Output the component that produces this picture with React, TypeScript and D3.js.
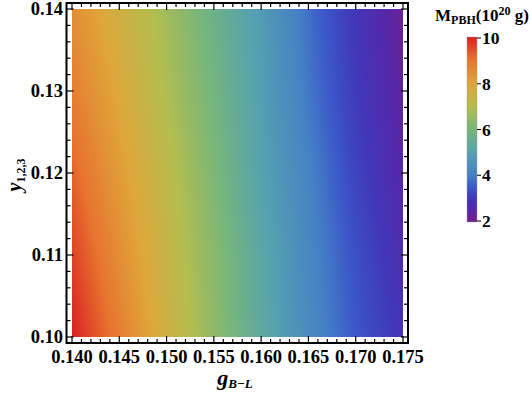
import React, { useEffect, useState } from "react";
import * as d3 from "d3";

const gValues = [0.14, 0.145, 0.15, 0.155, 0.16, 0.165, 0.17, 0.175];
const yValues = [0.1, 0.11, 0.12, 0.13, 0.14];
const massRow010 = [10.0, 8.8, 7.6, 6.4, 5.3, 4.3, 3.5, 2.9];
const massRow011 = [9.6, 8.5, 7.4, 6.3, 5.2, 4.2, 3.4, 2.7];
const massRow012 = [9.2, 8.2, 7.2, 6.1, 5.0, 4.1, 3.2, 2.5];
const massRow013 = [8.8, 7.9, 6.9, 5.9, 4.9, 3.9, 3.05, 2.35];
const massRow014 = [8.5, 7.6, 6.7, 5.7, 4.8, 3.8, 2.95, 2.2];
const massRows = [massRow010, massRow011, massRow012, massRow013, massRow014];

const xTicks = [0.14, 0.145, 0.15, 0.155, 0.16, 0.165, 0.17, 0.175];
const yTicks = [0.1, 0.11, 0.12, 0.13, 0.14];
const cbTicks = [2, 4, 6, 8, 10];
const colorStops = ["#77208C", "#5527A8", "#4137B8", "#3C56C8", "#4580C6", "#55A2AF", "#77B67A", "#B4BD4E", "#DFA53A", "#E7742F", "#D92120"];
const colorDomain = [2, 2.5, 3, 3.5, 4, 5, 6, 7, 8, 9, 10];

const W = 529;
const H = 401;
const FONT = "'Liberation Serif', 'Times New Roman', serif";

const x = d3.scaleLinear().domain([0.14, 0.175]).range([72, 403]);
const y = d3.scaleLinear().domain([0.1, 0.14]).range([337, 9]);
const color = d3.scaleLinear<string>().domain(colorDomain).range(colorStops).interpolate(d3.interpolateRgb).clamp(true);
const cb = d3.scaleLinear().domain([2, 10]).range([221, 38]);

const frame = { x0: 66.5, x1: 408, y0: 3, y1: 343 };

function valueAt(g: number, yy: number): number {
  const gi = Math.max(0, Math.min(gValues.length - 2, d3.bisectRight(gValues, g) - 1));
  const yi = Math.max(0, Math.min(yValues.length - 2, d3.bisectRight(yValues, yy) - 1));
  const tg = Math.max(0, Math.min(1, (g - gValues[gi]) / (gValues[gi + 1] - gValues[gi])));
  const ty = Math.max(0, Math.min(1, (yy - yValues[yi]) / (yValues[yi + 1] - yValues[yi])));
  const a = massRows[yi][gi], b = massRows[yi][gi + 1];
  const c = massRows[yi + 1][gi], d = massRows[yi + 1][gi + 1];
  return (a * (1 - tg) + b * tg) * (1 - ty) + (c * (1 - tg) + d * tg) * ty;
}

export default function App() {
  const [href, setHref] = useState<string>("");
  const px0 = Math.round(x.range()[0]);
  const px1 = Math.round(x.range()[1]);
  const py0 = Math.round(y.range()[1]);
  const py1 = Math.round(y.range()[0]);
  useEffect(() => {
    const w = px1 - px0, h = py1 - py0;
    const canvas = document.createElement("canvas");
    canvas.width = w; canvas.height = h;
    const ctx = canvas.getContext("2d");
    if (!ctx) return;
    const img = ctx.createImageData(w, h);
    for (let j = 0; j < h; j++) {
      const yy = y.invert(py0 + j + 0.5);
      for (let i = 0; i < w; i++) {
        const g = x.invert(px0 + i + 0.5);
        const c = d3.rgb(color(valueAt(g, yy)));
        const k = (j * w + i) * 4;
        img.data[k] = c.r; img.data[k + 1] = c.g; img.data[k + 2] = c.b; img.data[k + 3] = 255;
      }
    }
    ctx.putImageData(img, 0, 0);
    setHref(canvas.toDataURL());
  }, []);

  const xMinor = d3.range(0.14, 0.17501, 0.001);
  const yMinor = d3.range(0.1, 0.14001, 0.002);
  const cbGrad = d3.range(0, 41).map((i) => 2 + (i * 8) / 40);

  return (
    <svg width={W} height={H} style={{ position: "absolute", left: 0, top: 0 }} fontFamily={FONT}>
      <defs>
        <linearGradient id="cbg" x1="0" y1="1" x2="0" y2="0">
          {cbGrad.map((v, i) => (
            <stop key={i} offset={(v - 2) / 8} stopColor={color(v)} />
          ))}
        </linearGradient>
      </defs>
      <rect width={W} height={H} fill="white" />
      {href && <image href={href} x={px0} y={py0} width={px1 - px0} height={py1 - py0} preserveAspectRatio="none" />}
      {xMinor.map((v, i) => {
        const major = i % 5 === 0;
        const len = major ? 7 : 4;
        return (
          <g key={"xt" + i} stroke="black" strokeWidth={1.2}>
            <line x1={x(v)} x2={x(v)} y1={frame.y1} y2={frame.y1 - len} />
            <line x1={x(v)} x2={x(v)} y1={frame.y0} y2={frame.y0 + len} />
          </g>
        );
      })}
      {yMinor.map((v, i) => {
        const major = i % 5 === 0;
        const len = major ? 7 : 4;
        return (
          <g key={"yt" + i} stroke="black" strokeWidth={1.2}>
            <line x1={frame.x0} x2={frame.x0 + len} y1={y(v)} y2={y(v)} />
            <line x1={frame.x1} x2={frame.x1 - len} y1={y(v)} y2={y(v)} />
          </g>
        );
      })}
      <rect x={frame.x0} y={frame.y0} width={frame.x1 - frame.x0} height={frame.y1 - frame.y0} fill="none" stroke="black" strokeWidth={2} />
      {xTicks.map((v) => (
        <text key={"xl" + v} x={x(v)} y={363} textAnchor="middle" fontSize={18.5} fontWeight="bold">
          {v.toFixed(3)}
        </text>
      ))}
      {yTicks.map((v) => (
        <text key={"yl" + v} x={63} y={y(v) + 6} textAnchor="end" fontSize={18.5} fontWeight="bold">
          {v.toFixed(2)}
        </text>
      ))}
      <text x={235} y={385} fontWeight="bold" textAnchor="middle">
        <tspan fontStyle="italic" fontSize={22}>g</tspan>
        <tspan fontStyle="italic" fontSize={13} dy={3}>B−L</tspan>
      </text>
      <text transform="translate(21,175) rotate(-90)" textAnchor="middle" fontWeight="bold">
        <tspan fontStyle="italic" fontSize={20}>y</tspan>
        <tspan fontSize={12} dy={4}>1,2,3</tspan>
      </text>
      <rect x={467} y={37} width={10} height={185} fill="url(#cbg)" stroke="#999" strokeWidth={0.4} />
      {cbTicks.map((v) => (
        <g key={"cb" + v}>
          <line x1={477} x2={481} y1={cb(v)} y2={cb(v)} stroke="black" strokeWidth={1} />
          <text x={482} y={cb(v) + 6} fontSize={17.5} fontWeight="bold">{v}</text>
        </g>
      ))}
      <text x={435} y={21} fontWeight="bold" fontSize={17}>
        <tspan>M</tspan>
        <tspan fontSize={12} dy={3}>PBH</tspan>
        <tspan dy={-3}>(10</tspan>
        <tspan fontSize={12} dy={-6}>20</tspan>
        <tspan dy={6}> g)</tspan>
      </text>
    </svg>
  );
}
